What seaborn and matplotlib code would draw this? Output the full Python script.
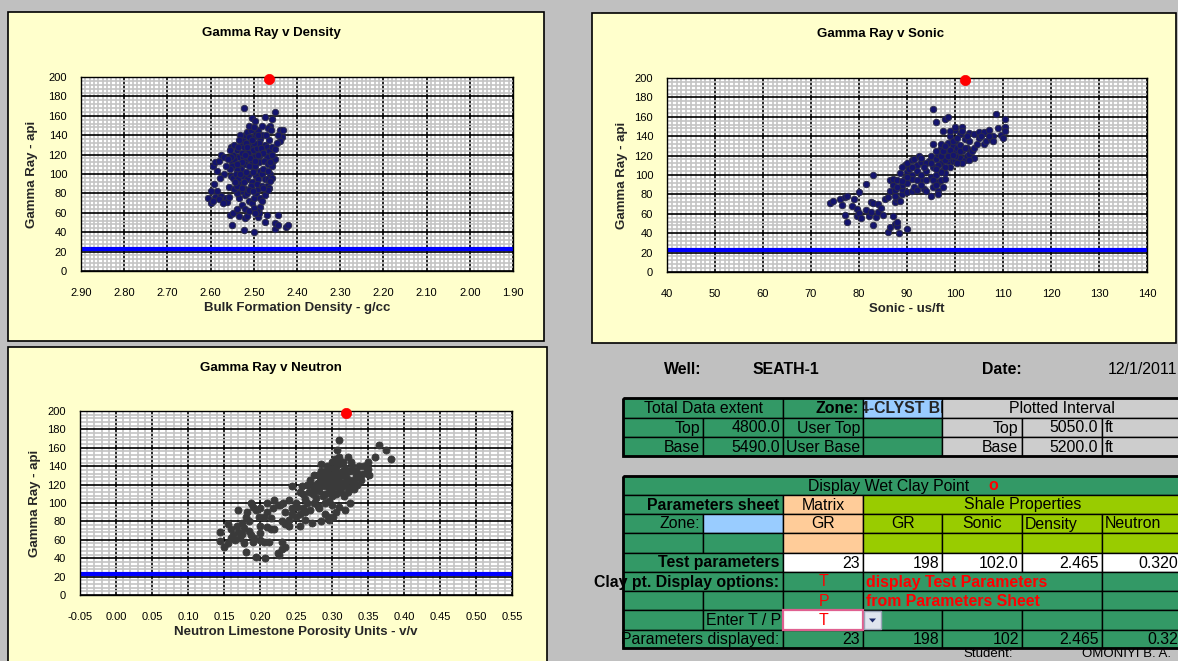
import matplotlib
matplotlib.use("Agg")
import numpy as np
import pandas as pd
import seaborn as sns
import matplotlib.pyplot as plt
from matplotlib.patches import Rectangle, Polygon
from matplotlib.ticker import FixedLocator, MultipleLocator, FormatStrFormatter

# ---------------------------------------------------------------- data
# Wet clay point test parameters (matrix GR and shale properties)
matrix_gr = 23
shale_names = ["GR", "Sonic", "Density", "Neutron"]
shale_test = [198, 102.0, 2.465, 0.320]
shale_test_text = ["198", "102.0", "2.465", "0.320"]

well_name = "SEATH-1"
run_date = "12/1/2011"
zone_name = "4-CLYST BED"
extent_rows = ["Top", "Base"]
total_extent = [4800.0, 5490.0]
plotted_interval = [5050.0, 5200.0]
student = "OMONIYI B. A."

density_ticks = [2.90, 2.80, 2.70, 2.60, 2.50, 2.40, 2.30, 2.20, 2.10, 2.00, 1.90]
sonic_ticks = [40, 50, 60, 70, 80, 90, 100, 110, 120, 130, 140]
neutron_ticks = [-0.05, 0.00, 0.05, 0.10, 0.15, 0.20, 0.25, 0.30, 0.35, 0.40, 0.45, 0.50, 0.55]
gr_ticks = [0, 20, 40, 60, 80, 100, 120, 140, 160, 180, 200]

# bulk density (g/cc) vs gamma ray (api)
density_points = [
    (2.522, 168), (2.505, 158), (2.497, 155), (2.475, 159), (2.463, 150), (2.458, 157),
    (2.452, 164), (2.468, 147), (2.440, 145), (2.432, 145), (2.435, 138), (2.445, 140),
    (2.440, 134), (2.455, 113), (2.450, 115),
    (2.605, 75), (2.600, 82), (2.598, 70), (2.595, 108), (2.590, 112), (2.592, 90),
    (2.585, 103), (2.580, 113), (2.575, 77), (2.570, 72), (2.565, 75), (2.575, 120),
    (2.570, 118), (2.562, 71), (2.558, 76), (2.557, 87), (2.553, 98), (2.550, 112),
    (2.553, 128), (2.548, 96),
    (2.555, 58), (2.550, 47), (2.548, 60), (2.540, 64), (2.535, 57), (2.522, 42),
    (2.520, 55), (2.515, 57), (2.500, 40), (2.490, 56), (2.485, 66), (2.475, 51),
    (2.470, 58), (2.450, 50), (2.452, 43), (2.445, 47), (2.445, 58), (2.425, 45),
    (2.420, 47), (2.488, 60), (2.493, 62),
    (2.545, 130), (2.540, 125), (2.535, 118), (2.530, 130), (2.525, 135), (2.520, 140),
    (2.515, 143), (2.510, 132), (2.505, 128), (2.500, 138), (2.495, 142), (2.490, 145),
    (2.485, 136), (2.480, 140), (2.475, 130), (2.470, 128), (2.465, 124), (2.460, 120),
    (2.465, 135), (2.470, 118), (2.480, 125), (2.485, 120), (2.490, 115), (2.495, 122),
    (2.500, 118), (2.505, 112), (2.510, 120), (2.515, 115), (2.520, 110), (2.525, 118),
    (2.530, 105), (2.535, 110), (2.540, 104), (2.545, 115), (2.550, 108), (2.542, 100),
    (2.537, 95), (2.530, 90), (2.525, 98), (2.520, 85), (2.515, 95), (2.510, 100),
    (2.505, 92), (2.500, 105), (2.495, 98), (2.490, 95), (2.485, 103), (2.480, 100),
    (2.475, 95), (2.470, 88), (2.465, 86), (2.468, 95), (2.472, 82), (2.520, 78),
    (2.515, 80), (2.510, 72), (2.505, 70), (2.500, 75), (2.495, 80), (2.490, 85),
    (2.485, 75), (2.480, 72), (2.475, 78), (2.530, 82), (2.535, 75), (2.540, 80),
    (2.545, 85), (2.527, 68), (2.520, 64), (2.510, 62), (2.500, 65), (2.497, 60),
    (2.507, 88), (2.512, 108), (2.502, 125), (2.492, 130), (2.487, 112), (2.497, 108),
    (2.507, 145), (2.517, 125), (2.527, 122), (2.537, 128), (2.532, 140), (2.512, 150),
    (2.482, 150), (2.477, 113), (2.467, 110), (2.462, 100), (2.458, 108), (2.472, 140),
    (2.457, 128), (2.460, 145), (2.500, 148), (2.490, 140),
    (2.528, 112), (2.523, 128), (2.518, 132), (2.513, 122), (2.508, 117), (2.503, 102),
    (2.498, 113), (2.493, 127), (2.488, 132), (2.483, 127), (2.478, 122), (2.533, 100),
    (2.538, 88), (2.543, 92), (2.548, 120), (2.552, 118), (2.556, 105), (2.560, 115),
    (2.565, 108), (2.518, 102), (2.523, 92), (2.528, 86), (2.512, 84), (2.502, 82),
    (2.492, 90), (2.482, 88), (2.478, 105), (2.468, 103), (2.462, 112), (2.457, 120),
    (2.452, 126), (2.447, 132), (2.458, 96), (2.463, 93), (2.468, 84), (2.478, 86),
    (2.520, 120), (2.510, 138), (2.500, 132), (2.490, 120), (2.505, 135), (2.515, 128),
    (2.535, 135), (2.540, 110), (2.555, 125), (2.570, 100), (2.578, 96), (2.585, 82),
    (2.590, 76), (2.580, 74), (2.572, 70), (2.595, 72),
]

# sonic (us/ft) vs gamma ray (api)
sonic_points = [
    (74.0, 71), (74.5, 73), (76.0, 75), (77.0, 77), (77.5, 78), (76.5, 69), (77.0, 59),
    (77.5, 52), (78.5, 68), (79.0, 75), (79.5, 65), (79.5, 58), (80.0, 82), (80.0, 61),
    (80.5, 56), (81.5, 91), (81.5, 64), (82.0, 58), (82.5, 72), (82.5, 62), (83.0, 100),
    (83.0, 71), (83.5, 57), (84.0, 70), (84.0, 62), (84.5, 66), (83.0, 48), (85.0, 59),
    (85.5, 75), (86.0, 77), (86.0, 41), (86.5, 46), (87.0, 58), (87.5, 50), (88.0, 47),
    (88.0, 52), (88.3, 40), (90.0, 44), (86.5, 83), (86.5, 95), (87.0, 90), (87.5, 85),
    (87.0, 96), (87.5, 72), (88.0, 75), (88.5, 73), (88.0, 95), (88.5, 102), (89.0, 80),
    (89.0, 86), (89.0, 90), (89.5, 110), (89.5, 97), (90.0, 103), (90.0, 112), (90.0, 82),
    (90.5, 106), (91.0, 115), (91.0, 100), (91.0, 84), (91.5, 88), (91.5, 117), (92.0, 110),
    (92.5, 120), (93.0, 96), (93.0, 113), (93.5, 86), (94.0, 84), (94.5, 114), (95.0, 120),
    (95.0, 98), (95.0, 78), (95.5, 88), (95.5, 168), (95.5, 132), (95.5, 108), (96.0, 155),
    (96.0, 117), (96.0, 100), (96.5, 122), (96.5, 93), (96.5, 84), (97.0, 128), (97.0, 112),
    (97.0, 95), (97.5, 145), (97.5, 118), (97.5, 105), (98.0, 158), (98.0, 125), (98.0, 102),
    (98.5, 160), (98.5, 133), (98.5, 114), (99.0, 140), (99.0, 122), (99.0, 118), (99.5, 130),
    (99.5, 114), (100.0, 146), (100.0, 135), (100.0, 125), (100.0, 115), (100.5, 128),
    (100.5, 120), (101.0, 142), (101.0, 131), (101.0, 118), (101.5, 150), (101.5, 125),
    (102.0, 137), (102.0, 115), (102.5, 128), (102.5, 120), (103.0, 143), (103.0, 135),
    (103.0, 122), (103.5, 125), (104.0, 142), (104.0, 118), (104.0, 128), (105.0, 138),
    (105.0, 144), (106.0, 132), (106.0, 144), (106.5, 135), (107.0, 146), (107.5, 137),
    (108.0, 140), (108.5, 163), (109.0, 148), (109.5, 141), (110.0, 138), (110.5, 158),
    (110.5, 150), (110.5, 145), (98.0, 115), (99.0, 108), (97.0, 132), (96.0, 125),
    (94.0, 112), (93.0, 118), (92.0, 104), (91.0, 96), (90.0, 92), (89.0, 108),
    (96.5, 110), (97.0, 120), (97.5, 125), (98.0, 130), (98.5, 120), (99.0, 126),
    (99.5, 135), (100.0, 120), (100.5, 138), (101.0, 125), (101.5, 112), (102.0, 128),
    (102.5, 140), (103.0, 115), (98.0, 108), (97.0, 103), (96.0, 106), (95.0, 112),
    (94.0, 104), (93.0, 100), (92.0, 95), (91.0, 108), (90.0, 98), (89.0, 94),
    (88.0, 88), (87.5, 78), (95.5, 95), (96.0, 90), (96.5, 80), (97.5, 88),
    (98.0, 96), (99.5, 121), (100.5, 112), (104.5, 132), (105.5, 140), (107.0, 140),
    (108.0, 135), (99.0, 145), (100.0, 150), (101.5, 145), (92.0, 85), (93.0, 90),
    (94.0, 95), (93.5, 108),
]

# neutron limestone porosity (v/v) vs gamma ray (api)
neutron_points = [
    (0.145, 69), (0.145, 59), (0.150, 52), (0.155, 57), (0.155, 77), (0.160, 72), (0.162, 65),
    (0.165, 60), (0.170, 92), (0.170, 68), (0.172, 62), (0.175, 78), (0.178, 73), (0.178, 56),
    (0.180, 47), (0.182, 90), (0.185, 80), (0.187, 100), (0.190, 96), (0.188, 65), (0.190, 58),
    (0.192, 62), (0.195, 41), (0.198, 85), (0.200, 75), (0.200, 60), (0.205, 58), (0.207, 40),
    (0.210, 74), (0.212, 58), (0.215, 72), (0.218, 95), (0.220, 103), (0.220, 72), (0.225, 46),
    (0.227, 44), (0.230, 58), (0.230, 50), (0.235, 52), (0.228, 98), (0.232, 100), (0.235, 90),
    (0.235, 77), (0.240, 103), (0.240, 82), (0.245, 95), (0.245, 118), (0.250, 100), (0.250, 85),
    (0.255, 75), (0.255, 112), (0.260, 110), (0.260, 95), (0.262, 82), (0.265, 120), (0.265, 100),
    (0.270, 125), (0.270, 92), (0.272, 78), (0.275, 115), (0.275, 130), (0.278, 105), (0.280, 122),
    (0.280, 97), (0.285, 118), (0.285, 135), (0.285, 80), (0.290, 126), (0.290, 110), (0.290, 100),
    (0.293, 140), (0.295, 120), (0.295, 85), (0.298, 130), (0.300, 115), (0.300, 138), (0.300, 98),
    (0.302, 125), (0.305, 140), (0.305, 90), (0.307, 158), (0.308, 120), (0.310, 168), (0.310, 130),
    (0.312, 112), (0.315, 135), (0.315, 145), (0.315, 122), (0.318, 92), (0.320, 128), (0.320, 118),
    (0.322, 150), (0.325, 135), (0.325, 115), (0.325, 100), (0.328, 140), (0.330, 125), (0.333, 130),
    (0.335, 120), (0.340, 125), (0.345, 140), (0.347, 133), (0.350, 145), (0.350, 137), (0.352, 130),
    (0.360, 150), (0.365, 163), (0.375, 158), (0.382, 148), (0.282, 113), (0.288, 108), (0.296, 112),
    (0.306, 110), (0.314, 118), (0.296, 102), (0.292, 118), (0.283, 128), (0.268, 112), (0.276, 120),
    (0.262, 104), (0.252, 96), (0.244, 88), (0.300, 145), (0.310, 142), (0.318, 138), (0.308, 134),
    (0.302, 132), (0.292, 134), (0.324, 125), (0.330, 115), (0.337, 128), (0.200, 95), (0.205, 85),
    (0.210, 90), (0.215, 84),
    (0.285, 125), (0.290, 132), (0.295, 127), (0.300, 122), (0.305, 128), (0.310, 125),
    (0.315, 130), (0.320, 134), (0.300, 108), (0.305, 118), (0.310, 115), (0.298, 118),
    (0.288, 122), (0.278, 118), (0.273, 110), (0.268, 120), (0.275, 100), (0.282, 95),
    (0.290, 88), (0.296, 82), (0.302, 85), (0.310, 96), (0.316, 108), (0.322, 112),
    (0.328, 120), (0.334, 135), (0.338, 140), (0.342, 132), (0.326, 145), (0.310, 150),
    (0.304, 148), (0.295, 138), (0.285, 142), (0.280, 130), (0.258, 118), (0.262, 90),
    (0.256, 88), (0.240, 75), (0.230, 80), (0.225, 98), (0.210, 100), (0.195, 92),
    (0.180, 85), (0.168, 75), (0.160, 62), (0.175, 66), (0.185, 70), (0.200, 67),
]

# ---------------------------------------------------------------- styling
W, H = 1178, 661
BG = "#c0c0c0"
PANEL = "#ffffcc"
GREEN = "#339966"
PEACH = "#ffcc99"
LIME = "#99cc00"
SKY = "#99ccff"
GREY_CELL = "#cdcdcd"
RED = "#ff0000"
SANS = ["Liberation Sans", "DejaVu Sans"]
NARROW = ["Liberation Sans Narrow", "Liberation Sans", "DejaVu Sans"]

sns.set_style("white")
plt.rcParams["font.family"] = SANS

fig = plt.figure(figsize=(W / 100, H / 100), dpi=100, facecolor=BG)
base = fig.add_axes([0, 0, 1, 1])
base.set_xlim(0, W)
base.set_ylim(H, 0)
base.axis("off")
base.set_zorder(0)


def box(x0, y0, x1, y1, fc, ec="black", lw=1.0, z=1):
    base.add_patch(Rectangle((x0, y0), x1 - x0, y1 - y0, facecolor=fc,
                             edgecolor=ec, linewidth=lw, zorder=z))


def label(x, y, s, ha="center", color="black", bold=False, size=11.4, va="center", **kw):
    return base.text(x, y, s, ha=ha, va=va, color=color, fontsize=size,
                     fontweight="bold" if bold else "normal", zorder=5, **kw)


# chart panels
box(8, 12, 544, 341, PANEL, lw=1.2)
box(592, 13, 1176, 343, PANEL, lw=1.2)
box(8, 347, 547, 700, PANEL, lw=1.2)


def draw_chart(area, points, xlim, xticks, xminor, xfmt, face, edge, size,
               clay_x, title, title_xy, xlabel, ylabel_x):
    x0, y0, x1, y1 = area
    ax = fig.add_axes([x0 / W, 1 - y1 / H, (x1 - x0) / W, (y1 - y0) / H])
    ax.set_zorder(2)
    ax.set_facecolor("white")
    df = pd.DataFrame(points, columns=["x", "gr"])
    ax.axhline(matrix_gr, color="#0000ff", lw=3.0, zorder=2.5)
    sns.scatterplot(data=df, x="x", y="gr", ax=ax, s=size, color=face,
                    edgecolor=edge, linewidth=0.6, zorder=3, legend=False)
    sns.scatterplot(x=[clay_x], y=[shale_test[0]], ax=ax, s=55, color=RED,
                    edgecolor=RED, linewidth=0.5, zorder=4, legend=False, clip_on=False)
    ax.set_xlim(*xlim)
    ax.set_ylim(0, 200)
    ax.xaxis.set_major_locator(FixedLocator(xticks))
    ax.xaxis.set_minor_locator(MultipleLocator(xminor))
    ax.xaxis.set_major_formatter(FormatStrFormatter(xfmt))
    ax.yaxis.set_major_locator(FixedLocator(gr_ticks))
    ax.yaxis.set_minor_locator(MultipleLocator(4))
    ax.grid(which="minor", color="#c4c4c4", lw=1.2)
    ax.grid(which="major", color="black", lw=1.2)
    ax.set_axisbelow(True)
    ax.tick_params(which="major", direction="out", length=3, width=1,
                   labelsize=8, labelfontfamily=NARROW, colors="black")
    ax.tick_params(axis="x", which="major", pad=9)
    ax.tick_params(axis="y", which="major", pad=7)
    ax.tick_params(which="minor", length=0)
    for sp in ax.spines.values():
        sp.set_color("black")
        sp.set_linewidth(1.0)
    h = y1 - y0
    w = x1 - x0
    ax.set_xlabel(xlabel, fontsize=9.5, fontweight="bold", va="center")
    ax.xaxis.set_label_coords(0.5, -37 / h)
    ax.set_ylabel("Gamma Ray - api", fontsize=9.5, fontweight="bold", va="center")
    ax.yaxis.set_label_coords(-(x0 - ylabel_x) / w, 0.5)
    label(title_xy[0], title_xy[1], title, bold=True, size=9.5)
    return ax


draw_chart((81, 77, 513, 271), density_points, (2.90, 1.90), density_ticks, 0.01, "%.2f",
           "#14146e", "#2b2b45", 22, shale_test[2], "Gamma Ray v Density", (271, 33),
           "Bulk Formation Density - g/cc", 32)
draw_chart((667, 78, 1147, 272), sonic_points, (40, 140), sonic_ticks, 1, "%d",
           "#14146e", "#2b2b45", 22, shale_test[1], "Gamma Ray v Sonic", (881, 34),
           "Sonic - us/ft", 622)
draw_chart((80, 411, 512, 595), neutron_points, (-0.05, 0.55), neutron_ticks, 0.01, "%.2f",
           "#3a3a3a", "#3a3a3a", 26, shale_test[3], "Gamma Ray v Neutron", (271, 368),
           "Neutron Limestone Porosity Units - v/v", 35)

# ---------------------------------------------------------------- header
label(664, 370, "Well:", ha="left", bold=True)
label(753, 370, well_name, ha="left", bold=True)
label(982, 370, "Date:", ha="left", bold=True)
label(1177, 370, run_date, ha="right")

C = [623, 703, 783, 863, 942, 1022, 1102, 1181]

# ---------------------------------------------------------------- data extent table
R1 = [398, 418, 437, 456]
mid = lambda a, b: (a + b) / 2 + 0.5
box(C[0], R1[0], C[2], R1[1], GREEN)
label(mid(C[0], C[2]), mid(R1[0], R1[1]), "Total Data extent")
box(C[2], R1[0], C[3], R1[1], GREEN)
label(C[3] - 4, mid(R1[0], R1[1]), "Zone:", ha="right", bold=True)
box(C[3], R1[0], C[4], R1[1], SKY)
# zone name overflows its narrow cell, so it lives in a small axes that clips it
zone_ax = fig.add_axes([(C[3] + 1) / W, 1 - R1[1] / H, (C[4] - C[3] - 1) / W, (R1[1] - R1[0]) / H])
zone_ax.set_axis_off()
zone_ax.set_zorder(1)
zone_ax.text(-4 / (C[4] - C[3]), 0.47, zone_name, transform=zone_ax.transAxes,
             ha="left", va="center", fontsize=11.4, fontweight="bold", clip_on=True)
box(C[4], R1[0], C[7], R1[1], GREY_CELL)
label(mid(C[4], C[7]), mid(R1[0], R1[1]), "Plotted Interval")
user_rows = ["User Top", "User Base"]
for i, name in enumerate(extent_rows):
    ya, yb = R1[i + 1], R1[i + 2]
    ym = mid(ya, yb)
    box(C[0], ya, C[1], yb, GREEN)
    label(C[1] - 3, ym, name, ha="right")
    box(C[1], ya, C[2], yb, GREEN)
    label(C[2] - 3, ym, f"{total_extent[i]:.1f}", ha="right")
    box(C[2], ya, C[3], yb, GREEN)
    label(C[3] - 3, ym, user_rows[i], ha="right")
    box(C[3], ya, C[4], yb, GREEN)
    box(C[4], ya, C[5], yb, GREY_CELL)
    label(C[5] - 4, ym, name, ha="right")
    box(C[5], ya, C[6], yb, GREY_CELL)
    label(C[6] - 4, ym, f"{plotted_interval[i]:.1f}", ha="right")
    box(C[6], ya, C[7], yb, GREY_CELL)
    label(C[6] + 3, ym, "ft", ha="left")
box(C[0], R1[0], C[7], R1[-1], "none", lw=2.0, z=2)

# ---------------------------------------------------------------- wet clay point table
R2 = [476, 495, 514, 533, 553, 572, 591, 610, 630, 648]
rm = [mid(R2[i], R2[i + 1]) for i in range(len(R2) - 1)]

box(C[0], R2[0], C[7], R2[1], GREEN)
label(889, rm[0], "Display Wet Clay Point")
label(993, rm[0], "o", color=RED, bold=True)

box(C[0], R2[1], C[2], R2[2], GREEN)
label(C[2] - 4, rm[1], "Parameters sheet", ha="right", bold=True)
box(C[2], R2[1], C[3], R2[2], PEACH)
label(mid(C[2], C[3]), rm[1], "Matrix")
box(C[3], R2[1], C[7], R2[2], LIME)
label(mid(C[3], C[7]), rm[1], "Shale Properties")

box(C[0], R2[2], C[1], R2[3], GREEN)
label(C[1] - 3, rm[2], "Zone:", ha="right")
box(C[1], R2[2], C[2], R2[3], SKY)
box(C[2], R2[2], C[3], R2[3], PEACH)
label(mid(C[2], C[3]), rm[2], "GR")
for j, name in enumerate(shale_names):
    box(C[3 + j], R2[2], C[4 + j], R2[3], LIME)
    if j < 2:
        label(mid(C[3 + j], C[4 + j]), rm[2], name)
    else:
        label(C[3 + j] + 3, rm[2], name, ha="left")

box(C[0], R2[3], C[1], R2[4], GREEN)
box(C[1], R2[3], C[2], R2[4], GREEN)
box(C[2], R2[3], C[3], R2[4], PEACH)
for j in range(4):
    box(C[3 + j], R2[3], C[4 + j], R2[4], LIME)

box(C[0], R2[4], C[2], R2[5], GREEN)
label(C[2] - 4, rm[4], "Test parameters", ha="right", bold=True)
box(C[2], R2[4], C[3], R2[5], "white")
label(C[3] - 3, rm[4], f"{matrix_gr}", ha="right")
for j, s in enumerate(shale_test_text):
    box(C[3 + j], R2[4], C[4 + j], R2[5], "white")
    label(C[4 + j] - 3, rm[4], s, ha="right")

box(C[0], R2[5], C[2], R2[6], GREEN)
box(C[2], R2[5], C[3], R2[6], GREEN)
box(C[3], R2[5], C[6], R2[6], GREEN)
box(C[6], R2[5], C[7], R2[6], GREEN)
label(C[2] - 4, rm[5], "Clay pt. Display options:", ha="right", bold=True)
label(mid(C[2], C[3]), rm[5], "T", color=RED)
label(C[3] + 3, rm[5], "display Test Parameters", ha="left", color=RED, bold=True)

box(C[0], R2[6], C[1], R2[7], GREEN)
box(C[1], R2[6], C[2], R2[7], GREEN)
box(C[2], R2[6], C[3], R2[7], GREEN)
box(C[3], R2[6], C[6], R2[7], GREEN)
box(C[6], R2[6], C[7], R2[7], GREEN)
label(mid(C[2], C[3]), rm[6], "P", color=RED)
label(C[3] + 3, rm[6], "from Parameters Sheet", ha="left", color=RED, bold=True)

box(C[0], R2[7], C[1], R2[8], GREEN)
box(C[1], R2[7], C[2], R2[8], GREEN)
label(C[2] - 2, rm[7], "Enter T / P", ha="right")
for j in range(4):
    box(C[3 + j], R2[7], C[4 + j], R2[8], GREEN)
box(C[2], R2[7], C[3], R2[8], "white", ec="#e06090", lw=1.6, z=3)
label(mid(C[2], C[3]), rm[7], "T", color=RED)
box(C[3] + 1, R2[7] + 1, C[3] + 18, R2[8] - 1, "#dfe4ee", ec="#9aa4b8", lw=1.0, z=3)
base.add_patch(Polygon([(C[3] + 6, rm[7] - 2), (C[3] + 13, rm[7] - 2), (C[3] + 9.5, rm[7] + 2)],
                       closed=True, facecolor="#1c2a6a", edgecolor="none", zorder=4))

box(C[0], R2[8], C[2], R2[9], GREEN)
label(C[2] - 4, rm[8], "Parameters displayed:", ha="right")
box(C[2], R2[8], C[3], R2[9], GREEN)
label(C[3] - 3, rm[8], f"{matrix_gr:g}", ha="right")
for j, v in enumerate(shale_test):
    box(C[3 + j], R2[8], C[4 + j], R2[9], GREEN)
    label(C[4 + j] - 3, rm[8], f"{v:g}", ha="right")
box(C[0], R2[0], C[7], R2[-1], "none", lw=2.0, z=2)

label(963, 660, "Student:", ha="left", va="bottom", size=9.5)
label(1082, 660, student, ha="left", va="bottom", size=9.5)

fig.savefig("out.png", dpi=100, facecolor=BG)
